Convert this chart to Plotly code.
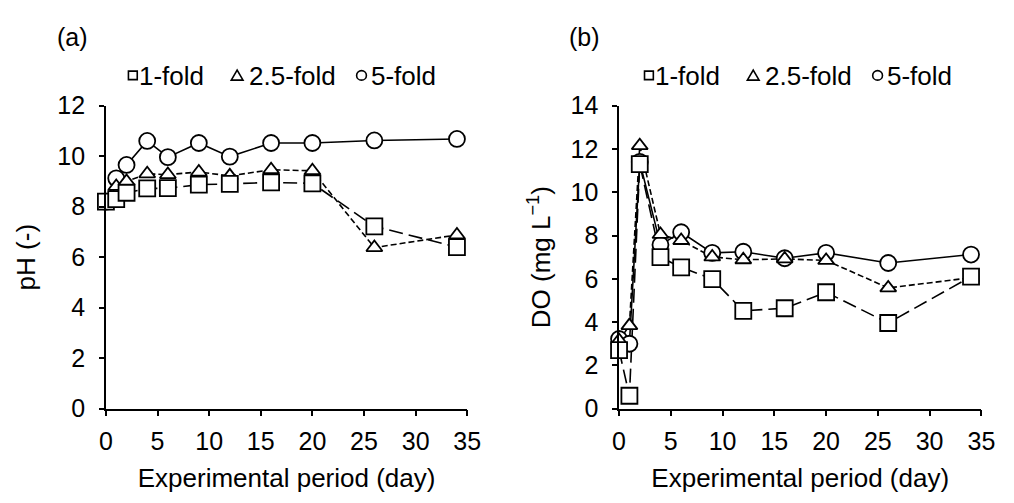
import plotly.graph_objects as go

# Sampling days
days = [0, 1, 2, 4, 6, 9, 12, 16, 20, 26, 34]

# pH by dilution level
ph_1fold = [8.2, 8.3, 8.55, 8.72, 8.73, 8.87, 8.9, 8.96, 8.92, 7.22, 6.4]
ph_25fold = [8.2, 8.8, 9.0, 9.3, 9.27, 9.37, 9.22, 9.46, 9.42, 6.38, 6.88]
ph_5fold = [8.2, 9.12, 9.65, 10.6, 9.96, 10.52, 9.98, 10.52, 10.52, 10.62, 10.68]

# Dissolved oxygen (mg/L) by dilution level
do_1fold = [2.71, 0.6, 11.3, 7.0, 6.53, 5.99, 4.52, 4.64, 5.38, 3.96, 6.1]
do_25fold = [3.15, 3.84, 12.15, 8.05, 7.77, 7.01, 6.88, 6.92, 6.85, 5.58, 6.05]
do_5fold = [3.22, 3.0, 11.4, 7.57, 8.15, 7.2, 7.25, 6.95, 7.2, 6.73, 7.12]

series_names = ["1-fold", "2.5-fold", "5-fold"]
symbols = ["square", "triangle-up", "circle"]
marker_sizes = [16, 14, 16]
dashes = ["14px,6px", "6px,3px", "solid"]

W, H = 1014, 503
FONT = "Liberation Sans, Arial, sans-serif"

fig = go.Figure()

panels = [
    ("x", "y", [ph_1fold, ph_25fold, ph_5fold]),
    ("x2", "y2", [do_1fold, do_25fold, do_5fold]),
]

for xa, ya, values in panels:
    # connecting lines first so every marker sits above every line
    for name, vals, dash in zip(series_names, values, dashes):
        fig.add_trace(go.Scatter(
            x=days, y=vals, xaxis=xa, yaxis=ya, mode="lines",
            line=dict(color="black", width=1.6, dash=dash),
            showlegend=False, hoverinfo="skip", cliponaxis=False,
        ))
    # markers: circles at the bottom, squares on top
    for i in [2, 1, 0]:
        fig.add_trace(go.Scatter(
            x=days, y=values[i], xaxis=xa, yaxis=ya, mode="markers",
            name=series_names[i],
            marker=dict(symbol=symbols[i], size=marker_sizes[i], color="white",
                        line=dict(color="black", width=1.8)),
            showlegend=False, cliponaxis=False,
        ))


def px_x(p):
    return p / W


def px_y(p):
    return 1 - p / H


axis_common = dict(
    showline=True, linecolor="black", linewidth=1.5,
    ticks="outside", tickcolor="black", tickwidth=1.5,
    showgrid=False, zeroline=False,
    tickfont=dict(family=FONT, size=25, color="black"),
)

ydom = [px_y(418), px_y(97)]

fig.update_layout(
    width=W, height=H,
    margin=dict(l=0, r=0, t=0, b=0),
    paper_bgcolor="white", plot_bgcolor="white",
    font=dict(family=FONT, color="black"),
    showlegend=False,
    xaxis=dict(domain=[px_x(101), px_x(470)], range=[0, 35], tickvals=list(range(0, 36, 5)),
               ticklen=6, ticklabelstandoff=4, anchor="y",
               title=dict(text="Experimental period (day)", font=dict(size=26), standoff=14),
               **axis_common),
    yaxis=dict(domain=ydom, range=[0, 12], tickvals=list(range(0, 13, 2)), ticklen=5,
               ticklabelstandoff=9, anchor="x",
               title=dict(text="pH (-)", font=dict(size=26), standoff=14),
               **axis_common),
    xaxis2=dict(domain=[px_x(625), px_x(995)], range=[0, 35], tickvals=list(range(0, 36, 5)),
                ticklen=6, ticklabelstandoff=4, anchor="y2",
                title=dict(text="Experimental period (day)", font=dict(size=26), standoff=14),
                **axis_common),
    yaxis2=dict(domain=ydom, range=[0, 14], tickvals=list(range(0, 15, 2)), ticklen=5,
                ticklabelstandoff=9, anchor="x2",
                title=dict(text="DO (mg L<sup>−1</sup>)", font=dict(size=26), standoff=12),
                **axis_common),
)

# Panel letters
for label, xp in [("(a)", 49), ("(b)", 572)]:
    fig.add_annotation(text=label, xref="paper", yref="paper", x=px_x(xp), y=px_y(24),
                       xanchor="left", yanchor="middle", showarrow=False,
                       font=dict(family=FONT, size=25, color="black"))

# Legend row above each panel: small outlined symbols followed by text
shapes = []
for off in [0, 527]:
    cy = 65
    # square
    shapes.append(dict(type="rect", xref="paper", yref="paper",
                       x0=px_x(124 + off), x1=px_x(133 + off),
                       y0=px_y(cy + 4.5), y1=px_y(cy - 4.5),
                       line=dict(color="black", width=1.6), fillcolor="white"))
    # triangle
    x0, x1 = px_x(229 + off), px_x(241 + off)
    xm = px_x(235 + off)
    yb, yt = px_y(cy + 5), px_y(cy - 5.5)
    shapes.append(dict(type="path", xref="paper", yref="paper",
                       path=f"M {x0} {yb} L {x1} {yb} L {xm} {yt} Z",
                       line=dict(color="black", width=1.6), fillcolor="white"))
    # circle
    shapes.append(dict(type="circle", xref="paper", yref="paper",
                       x0=px_x(357 + off), x1=px_x(367 + off),
                       y0=px_y(cy + 5), y1=px_y(cy - 5),
                       line=dict(color="black", width=1.6), fillcolor="white"))
    for txt, xp in [("1-fold", 133), ("2.5-fold", 245), ("5-fold", 370)]:
        fig.add_annotation(text=txt, xref="paper", yref="paper", x=px_x(xp + off), y=px_y(cy + 1),
                           xanchor="left", yanchor="middle", showarrow=False,
                           font=dict(family=FONT, size=26, color="black"))

fig.update_layout(shapes=shapes)

fig.write_html("out.html")
